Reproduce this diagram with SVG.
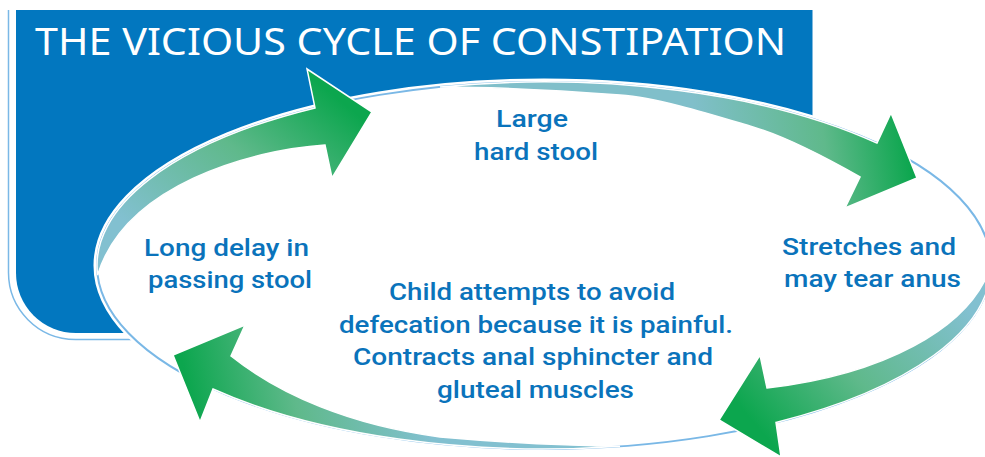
<svg xmlns="http://www.w3.org/2000/svg" width="985" height="457" viewBox="0 0 985 457">
<style>
.lbl{font-family:Roboto,"Liberation Sans",sans-serif;font-weight:500;font-size:24px;fill:#0a73bb;text-anchor:middle}
.title{font-family:"Noto Sans","Open Sans",sans-serif;font-weight:400;font-size:38px;fill:#ffffff}
.arrow{stroke:#ffffff;stroke-width:1.5;stroke-linejoin:miter}
</style>
<defs>
<linearGradient id="g1" gradientUnits="userSpaceOnUse" x1="305" y1="72" x2="160" y2="250">
<stop offset="0" stop-color="#0ca64e"/><stop offset="0.45" stop-color="#5fb98b"/><stop offset="1" stop-color="#82c0d0"/>
</linearGradient>
<linearGradient id="g2" gradientUnits="userSpaceOnUse" x1="905" y1="120" x2="700" y2="150">
<stop offset="0" stop-color="#0ca64e"/><stop offset="0.4" stop-color="#5fb98b"/><stop offset="1" stop-color="#80bfca"/>
</linearGradient>
<linearGradient id="g3" gradientUnits="userSpaceOnUse" x1="782" y1="455" x2="960" y2="300">
<stop offset="0" stop-color="#0ca64e"/><stop offset="0.45" stop-color="#5fb98b"/><stop offset="1" stop-color="#82c0d0"/>
</linearGradient>
<linearGradient id="g4" gradientUnits="userSpaceOnUse" x1="195" y1="425" x2="420" y2="380">
<stop offset="0" stop-color="#0ca64e"/><stop offset="0.45" stop-color="#5fb98b"/><stop offset="1" stop-color="#82c0d0"/>
</linearGradient>
</defs>

<g id="panel">
<path d="M8.5,10 V272 A67,67 0 0 0 75.5,339.5 H320" fill="none" stroke="#7ab8e6" stroke-width="1.5"/>
<path d="M16,10 H812.5 V333 H76 A60,60 0 0 1 16,273 Z" fill="#0277bf"/>
<text class="title" x="35" y="55" textLength="751" lengthAdjust="spacingAndGlyphs">THE VICIOUS CYCLE OF CONSTIPATION</text>
</g>

<g id="cycle">
<ellipse cx="544" cy="265.5" rx="447" ry="183.5" fill="#ffffff" stroke="#ffffff" stroke-width="7"/>
<ellipse cx="544" cy="265.5" rx="447" ry="183.5" fill="none" stroke="#7ab8e6" stroke-width="2"/>
</g>

<g id="connectors">
<path class="arrow" fill="url(#g1)" d="M97.6,275.1 A447,183.5 0 0 1 315,107.9 L307,69 L372,112 L332,178 L325,145 C250,150 125,185 97.6,275.1 Z"/>
<path class="arrow" fill="url(#g2)" d="M440,87 A447,183.5 0 0 1 877,143.1 L891,113 L917,178 L845,208 L860,177 C830,160 790,138 753,127 S660,98 620,95 S500,87 440,87 Z"/>
<path class="arrow" fill="url(#g3)" d="M991,265.5 A447,183.5 0 0 1 776,422.4 L781,457 L719,420 L760,355 L767,388 C880,375 970,330 991,265.5 Z"/>
<path class="arrow" fill="url(#g4)" d="M620,446.3 A447,183.5 0 0 1 213,389 L200,422 L173,355 L245,325 L231,356 C280,395 350,425 440,437 C520,444 590,446 620,446.3 Z"/>
</g>

<g id="node-stool">
<text class="lbl" x="532" y="127" textLength="72" lengthAdjust="spacingAndGlyphs">Large</text>
<text class="lbl" x="536" y="159.5" textLength="124" lengthAdjust="spacingAndGlyphs">hard stool</text>
</g>
<g id="node-tear">
<text class="lbl" x="869" y="255" textLength="174" lengthAdjust="spacingAndGlyphs">Stretches and</text>
<text class="lbl" x="872.5" y="287" textLength="177" lengthAdjust="spacingAndGlyphs">may tear anus</text>
</g>
<g id="node-avoid">
<text class="lbl" x="532" y="300" textLength="286" lengthAdjust="spacingAndGlyphs">Child attempts to avoid</text>
<text class="lbl" x="536" y="333" textLength="394" lengthAdjust="spacingAndGlyphs">defecation because it is painful.</text>
<text class="lbl" x="533" y="365" textLength="360" lengthAdjust="spacingAndGlyphs">Contracts anal sphincter and</text>
<text class="lbl" x="535.5" y="398" textLength="197" lengthAdjust="spacingAndGlyphs">gluteal muscles</text>
</g>
<g id="node-delay">
<text class="lbl" x="226.5" y="256" textLength="165" lengthAdjust="spacingAndGlyphs">Long delay in</text>
<text class="lbl" x="230" y="288" textLength="164" lengthAdjust="spacingAndGlyphs">passing stool</text>
</g>
</svg>
